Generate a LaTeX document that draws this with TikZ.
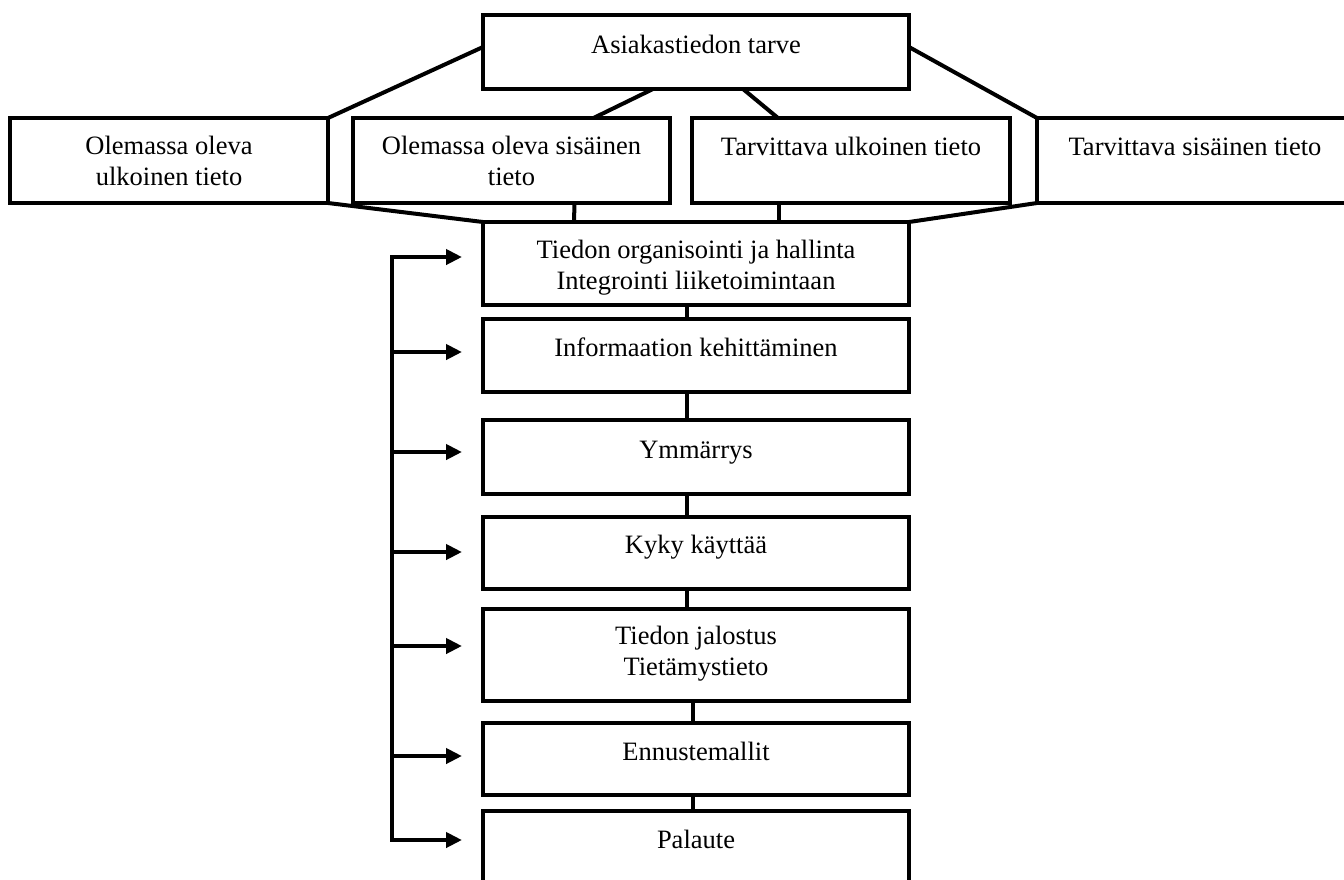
\documentclass[tikz,border=0pt]{standalone}
\usepackage{fontspec}
\setmainfont{Liberation Serif}
\usetikzlibrary{arrows.meta}
\newcommand{\twoline}[2]{\begin{tabular}[t]{@{}c@{}}#1\\#2\end{tabular}}
\begin{document}
\begin{tikzpicture}[x=1pt,y=-1pt,
  box/.style={draw, line width=4pt, anchor=north west, inner sep=0pt, outer sep=0pt},
  txt/.style={anchor=base, inner sep=0pt, outer sep=0pt, font=\fontsize{26.5}{31}\selectfont},
  conn/.style={line width=4pt},
  fbtip/.style={-{Triangle[length=16pt,width=15pt]}, line width=4pt}]
\useasboundingbox (0,0) rectangle (1344,879);
\fill[white] (0,0) rectangle (1344,879);
\clip (0,0) rectangle (1344,879);

% top box
\node[box, minimum width=426pt, minimum height=74pt] (top) at (483,15) {};
\node[txt] (ttop) at ([yshift=-38pt]top.north) {Asiakastiedon tarve};

% second row
\node[box, minimum width=318pt, minimum height=85pt] (b1) at (10,118) {};
\node[txt] (tb1) at ([yshift=-36pt]b1.north) {\twoline{Olemassa oleva}{ulkoinen tieto}};
\node[box, minimum width=317pt, minimum height=85pt] (b2) at (353,118) {};
\node[txt] (tb2) at ([yshift=-36pt]b2.north) {\twoline{Olemassa oleva sisäinen}{tieto}};
\node[box, minimum width=318pt, minimum height=85pt] (b3) at (692,118) {};
\node[txt] (tb3) at ([yshift=-37pt]b3.north) {Tarvittava ulkoinen tieto};
\node[box, minimum width=316pt, minimum height=85pt] (b4) at (1037,118) {};
\node[txt] (tb4) at ([yshift=-37pt]b4.north) {Tarvittava sisäinen tieto};

% stack
\node[box, minimum width=426pt, minimum height=83pt] (s1) at (483,222) {};
\node[txt] (ts1) at ([yshift=-36pt]s1.north) {\twoline{Tiedon organisointi ja hallinta}{Integrointi liiketoimintaan}};
\node[box, minimum width=426pt, minimum height=73pt] (s2) at (483,319) {};
\node[txt] (ts2) at ([yshift=-37pt]s2.north) {Informaation kehittäminen};
\node[box, minimum width=426pt, minimum height=74pt] (s3) at (483,420) {};
\node[txt] (ts3) at ([yshift=-38pt]s3.north) {Ymmärrys};
\node[box, minimum width=426pt, minimum height=72pt] (s4) at (483,517) {};
\node[txt] (ts4) at ([yshift=-36pt]s4.north) {Kyky käyttää};
\node[box, minimum width=426pt, minimum height=92pt] (s5) at (483,609) {};
\node[txt] (ts5) at ([yshift=-35pt]s5.north) {\twoline{Tiedon jalostus}{Tietämystieto}};
\node[box, minimum width=426pt, minimum height=72pt] (s6) at (483,723) {};
\node[txt] (ts6) at ([yshift=-37pt]s6.north) {Ennustemallit};
\node[box, minimum width=426pt, minimum height=90pt] (s7) at (483,811) {};
\node[txt] (ts7) at ([yshift=-37pt]s7.north) {Palaute};

% connectors top part
\draw[conn] ([yshift=5pt]top.west) -- (b1.north east);
\draw[conn] ([xshift=-43pt]top.south) -- ([xshift=82pt]b2.north);
\draw[conn] ([xshift=47pt]top.south) -- ([xshift=-73pt]b3.north);
\draw[conn] ([yshift=5pt]top.east) -- (b4.north west);
\draw[conn] (b1.south east) -- (s1.north west);
\draw[conn] (b4.south west) -- (s1.north east);
\draw[conn] ([xshift=63pt]b2.south) -- ([xshift=-122pt]s1.north);
\draw[conn] ([xshift=-72pt]b3.south) -- ([xshift=83pt]s1.north);

% stack connectors
\draw[conn] ([xshift=-9pt]s1.south) -- ([xshift=-9pt]s2.north);
\draw[conn] ([xshift=-9pt]s2.south) -- ([xshift=-9pt]s3.north);
\draw[conn] ([xshift=-9pt]s3.south) -- ([xshift=-9pt]s4.north);
\draw[conn] ([xshift=-9pt]s4.south) -- ([xshift=-9pt]s5.north);
\draw[conn] ([xshift=-3pt]s5.south) -- ([xshift=-3pt]s6.north);
\draw[conn] ([xshift=-3pt]s6.south) -- ([xshift=-3pt]s7.north);

% feedback bus
\coordinate (f1) at (392,257); \coordinate (a1) at (462,257);
\coordinate (f2) at (392,352); \coordinate (a2) at (462,352);
\coordinate (f3) at (392,452); \coordinate (a3) at (462,452);
\coordinate (f4) at (392,552); \coordinate (a4) at (462,552);
\coordinate (f5) at (392,646); \coordinate (a5) at (462,646);
\coordinate (f6) at (392,756); \coordinate (a6) at (462,756);
\coordinate (f7) at (392,840); \coordinate (a7) at (462,840);
\draw[line width=4pt, {Triangle[length=16pt,width=15pt]}-{Triangle[length=16pt,width=15pt]}] (a1) -- (f1) -- (f7) -- (a7);
\draw[fbtip] (f2) -- (a2);
\draw[fbtip] (f3) -- (a3);
\draw[fbtip] (f4) -- (a4);
\draw[fbtip] (f5) -- (a5);
\draw[fbtip] (f6) -- (a6);
\end{tikzpicture}
\end{document}
